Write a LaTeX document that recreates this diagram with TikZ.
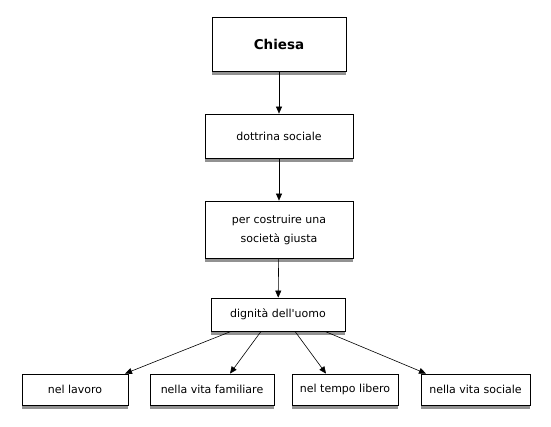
\documentclass[tikz,border=0pt]{standalone}
\usepackage{fontspec}
\setmainfont{DejaVu Sans}
\usepackage{tikz}
\usetikzlibrary{calc,arrows.meta,shadows}
\definecolor{shade}{HTML}{4A4A4A}

\tikzset{
  box/.style={draw,thick,fill=white,font=\fontsize{11}{19}\selectfont,align=center,
    inner sep=0pt,drop shadow={shadow xshift=0pt,shadow yshift=-3.5pt,fill=shade,opacity=0.6}},
  link/.style={-{Triangle[length=7pt,width=6pt]},semithick}
}

\begin{document}
\begin{tikzpicture}[x=1pt,y=-1pt]
\useasboundingbox (0,0) rectangle (551,426);
\node[box,minimum width=134,minimum height=54,font=\fontsize{13.5}{16}\selectfont\bfseries] (chi) at (279,44) {Chiesa};
\node[box,minimum width=148,minimum height=44] (dot) at (279,136) {dottrina sociale};
\node[box,minimum width=148,minimum height=57] (soc) at (279,229.5) {per costruire una\\società giusta};
\node[box,minimum width=134,minimum height=33] (dig) at (278,314.5) {dignità dell\textquotesingle uomo};
% bottom row
\foreach \nm/\cx/\w/\txt in {lav/75/106/nel lavoro,fam/212/124/nella vita familiare,
  tem/345/106/nel tempo libero,vso/475.5/109/nella vita sociale}{
  \node[box,minimum width=\w,minimum height=31] (\nm) at (\cx,389.5) {\txt};}
\draw[link] (chi) -- (dot);
\draw[link] (dot) -- (soc);
\draw[link] (soc) -- (dig);
\draw[link] ($(dig.south)+(-47,0)$) -- ($(lav.north)+(50,0)$);
\draw[link] ($(dig.south)+(-17,0)$) -- ($(fam.north)+(18,0)$);
\draw[link] ($(dig.south)+(17,0)$) -- ($(tem.north)+(-19,0)$);
\draw[link] ($(dig.south)+(47,0)$) -- ($(vso.north)+(-49.5,0)$);
\end{tikzpicture}
\end{document}
